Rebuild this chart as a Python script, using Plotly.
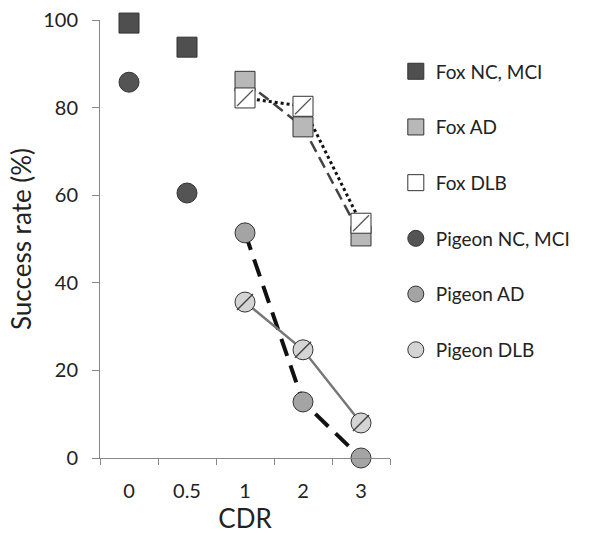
import plotly.graph_objects as go

categories = ["0", "0.5", "1", "2", "3"]
fox_nc_x = ["0", "0.5"]
fox_nc_y = [99.3, 93.8]
fox_ad_x = ["1", "2", "3"]
fox_ad_y = [86.0, 75.6, 50.7]
fox_dlb_x = ["1", "2", "3"]
fox_dlb_y = [82.2, 80.3, 53.6]
pig_nc_x = ["0", "0.5"]
pig_nc_y = [85.8, 60.5]
pig_ad_x = ["1", "2", "3"]
pig_ad_y = [51.4, 12.8, 0.0]
pig_dlb_x = ["1", "2", "3"]
pig_dlb_y = [35.6, 24.7, 8.0]

FONT = "Lato"
fig = go.Figure()

# connecting lines (under markers)
fig.add_trace(go.Scatter(x=fox_ad_x, y=fox_ad_y, mode="lines", showlegend=False, cliponaxis=False,
                         line=dict(color="#444444", width=2.5, dash="12px,6px")))
fig.add_trace(go.Scatter(x=fox_dlb_x, y=fox_dlb_y, mode="lines", showlegend=False, cliponaxis=False,
                         line=dict(color="#111111", width=3, dash="dot")))
fig.add_trace(go.Scatter(x=pig_ad_x, y=pig_ad_y, mode="lines", showlegend=False, cliponaxis=False,
                         line=dict(color="#111111", width=4, dash="18px,10px")))
fig.add_trace(go.Scatter(x=pig_dlb_x, y=pig_dlb_y, mode="lines", showlegend=False, cliponaxis=False,
                         line=dict(color="#777777", width=2.5)))

edge = dict(color="#333333", width=1)
def mk(name, x, y, symbol, color, group):
    fig.add_trace(go.Scatter(x=x, y=y, mode="markers", name=name, cliponaxis=False,
                             legendgroup=group,
                             marker=dict(symbol=symbol, size=20, color=color, line=edge)))

mk("Fox NC, MCI", fox_nc_x, fox_nc_y, "square", "#4f4f4f", "a")
mk("Fox AD", fox_ad_x, fox_ad_y, "square", "#b8b8b8", "b")
mk("Fox DLB", fox_dlb_x, fox_dlb_y, "square", "#ffffff", "c")
mk("Pigeon NC, MCI", pig_nc_x, pig_nc_y, "circle", "#545454", "d")
mk("Pigeon AD", pig_ad_x, pig_ad_y, "circle", "#a4a4a4", "e")
mk("Pigeon DLB", pig_dlb_x, pig_dlb_y, "circle", "#d4d4d4", "f")

# hatch overlays
fig.add_trace(go.Scatter(x=fox_dlb_x, y=fox_dlb_y, mode="markers", showlegend=False, cliponaxis=False,
                         marker=dict(symbol="line-ne", size=16, line=dict(color="#555555", width=1.2))))
fig.add_trace(go.Scatter(x=pig_dlb_x, y=pig_dlb_y, mode="markers", showlegend=False, cliponaxis=False,
                         marker=dict(symbol="line-ne", size=16, line=dict(color="#444444", width=1.5))))

fig.update_layout(
    width=610, height=535,
    margin=dict(l=100, r=220, t=20, b=77),
    paper_bgcolor="white", plot_bgcolor="white",
    font=dict(family=FONT, color="#222222"),
    legend=dict(x=1.02, y=0.926, xanchor="left", yanchor="top",
                font=dict(size=19, family=FONT, color="#222222"),
                tracegroupgap=28, itemwidth=30),
    xaxis=dict(type="category", categoryorder="array", categoryarray=categories,
               range=[-0.5, 4.5], tickson="boundaries", ticks="outside", ticklen=6,
               tickcolor="#888888", showline=True, linecolor="#888888", linewidth=1,
               showgrid=False, zeroline=False, tickfont=dict(size=20), ticklabelstandoff=15,
               automargin=False,
               title=dict(text="CDR", font=dict(size=26), standoff=8)),
    yaxis=dict(range=[0, 100], tickvals=[0, 20, 40, 60, 80, 100], ticks="outside", ticklen=7,
               tickcolor="#888888", showline=True, linecolor="#888888", linewidth=1,
               showgrid=False, zeroline=False, tickfont=dict(size=20), ticklabelstandoff=10,
               automargin=False,
               title=dict(text="Success rate (%)", font=dict(size=26), standoff=4)),
)

fig.write_html("out.html")
